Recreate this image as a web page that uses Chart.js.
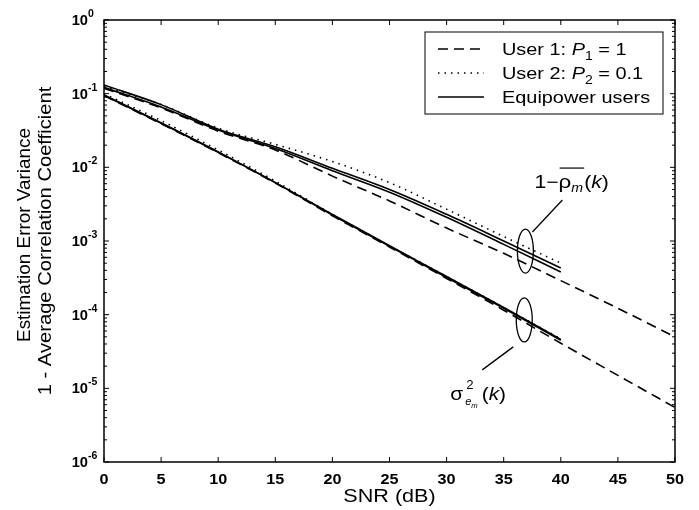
<!DOCTYPE html>
<html>
<head>
<meta charset="utf-8">
<script src="https://cdn.jsdelivr.net/npm/chart.js@4/dist/chart.umd.min.js"></script>
<style>
html, body { margin: 0; padding: 0; background: #fff; }
#plot { display: block; }
</style>
</head>
<body>
<canvas id="plot" width="699" height="510"></canvas>
<script>
const snrShort = [0, 5, 10, 15, 20, 25, 30, 35, 40];
const snrLong = [0, 5, 10, 15, 20, 25, 30, 35, 40, 45, 50];
const xTicks = [0, 5, 10, 15, 20, 25, 30, 35, 40, 45, 50];
const yExponents = [0, -1, -2, -3, -4, -5, -6];

// 1 - average correlation coefficient
const rhoUser1 = [0.118, 0.064, 0.031, 0.0172, 0.0076, 0.0035, 0.0015, 0.00068, 0.00029, 0.000122, 0.00005];
const rhoUser2 = [0.126, 0.071, 0.034, 0.0205, 0.0120, 0.0062, 0.0027, 0.00115, 0.0005];
const rhoEqualA = [0.131, 0.071, 0.033, 0.019, 0.0097, 0.0050, 0.0023, 0.0010, 0.00043];
const rhoEqualB = [0.122, 0.066, 0.032, 0.018, 0.0090, 0.0046, 0.0021, 0.0009, 0.00038];

// estimation error variance
const sigUser1 = [0.094, 0.039, 0.0158, 0.0061, 0.0022, 0.00083, 0.00031, 0.000115, 0.000041, 0.000015, 0.0000055];
const sigUser2 = [0.100, 0.043, 0.0172, 0.0065, 0.0023, 0.00086, 0.00033, 0.000125, 0.000047];
const sigEqualA = [0.096, 0.040, 0.0162, 0.0062, 0.0023, 0.00086, 0.00033, 0.000125, 0.000046];
const sigEqualB = [0.095, 0.040, 0.0160, 0.0062, 0.00225, 0.00085, 0.00032, 0.000122, 0.000045];

const FONT = 'Liberation Sans, Arial, Helvetica, sans-serif';
const DASH = [10, 6];
const DOT = [1.5, 5];

function pts(xs, ys) {
  return ys.map((v, i) => ({ x: xs[i], y: v }));
}

function line(data, dash) {
  return {
    data: data,
    borderColor: '#000',
    borderWidth: 1.6,
    borderDash: dash,
    pointRadius: 0,
    fill: false,
    cubicInterpolationMode: 'monotone'
  };
}

// writes a row of text pieces, each with its own font and vertical shift,
// widened by sx (the scanned figure has wide lettering)
function runs(ctx, x, y, parts, sx) {
  sx = sx || 1;
  ctx.textAlign = 'left';
  parts.forEach(p => {
    ctx.font = p.f;
    ctx.save();
    ctx.translate(x, y + (p.dy || 0));
    ctx.scale(sx, 1);
    ctx.fillText(p.t, 0, 0);
    ctx.restore();
    x += ctx.measureText(p.t).width * sx;
  });
  return x;
}

function centred(ctx, text, x, y, font, sx) {
  ctx.font = font;
  const w = ctx.measureText(text).width * sx;
  runs(ctx, x - w / 2, y, [{ t: text, f: font }], sx);
}

const axesBox = {
  id: 'axesBox',
  afterDatasetsDraw(chart) {
    const { ctx, chartArea: a, scales: { x, y } } = chart;
    ctx.save();
    ctx.strokeStyle = '#000';
    ctx.fillStyle = '#000';
    ctx.setLineDash([]);
    ctx.lineWidth = 1.5;
    ctx.strokeRect(a.left, a.top, a.right - a.left, a.bottom - a.top);

    // inward ticks
    ctx.lineWidth = 1;
    ctx.beginPath();
    xTicks.forEach(v => {
      const px = x.getPixelForValue(v);
      ctx.moveTo(px, a.bottom); ctx.lineTo(px, a.bottom - 5);
      ctx.moveTo(px, a.top); ctx.lineTo(px, a.top + 5);
    });
    yExponents.forEach(e => {
      for (let m = 1; m <= 9; m++) {
        const v = m * Math.pow(10, e);
        if (v > 1) continue;
        const py = y.getPixelForValue(v);
        const len = m === 1 ? 5 : 3;
        ctx.moveTo(a.left, py); ctx.lineTo(a.left + len, py);
        ctx.moveTo(a.right, py); ctx.lineTo(a.right - len, py);
      }
    });
    ctx.stroke();

    // tick labels
    ctx.textBaseline = 'alphabetic';
    xTicks.forEach(v => centred(ctx, String(v), x.getPixelForValue(v), a.bottom + 22, 'bold 15px ' + FONT, 1.08));
    yExponents.forEach(e => {
      const py = y.getPixelForValue(Math.pow(10, e));
      ctx.font = 'bold 14px ' + FONT;
      const w = ctx.measureText('10').width * 1.05;
      runs(ctx, a.left - 16 - w, py + 5, [{ t: '10', f: 'bold 14px ' + FONT }], 1.05);
      runs(ctx, a.left - 16, py - 3, [{ t: String(e), f: 'bold 10px ' + FONT }], 1.05);
    });

    // axis titles
    centred(ctx, 'SNR (dB)', (a.left + a.right) / 2, a.bottom + 40, '18px ' + FONT, 1.2);
    ctx.save();
    ctx.translate(0, (a.top + a.bottom) / 2);
    ctx.rotate(-Math.PI / 2);
    centred(ctx, 'Estimation Error Variance', 6, 30, '18px ' + FONT, 1.05);
    centred(ctx, '1 - Average Correlation Coefficient', 0, 51, '18px ' + FONT, 1.12);
    ctx.restore();

    // legend
    const L = { x: 425, y: 32, w: 238, h: 82 };
    ctx.fillStyle = '#fff';
    ctx.fillRect(L.x, L.y, L.w, L.h);
    ctx.lineWidth = 1;
    ctx.strokeRect(L.x, L.y, L.w, L.h);
    ctx.fillStyle = '#000';
    const F = '17px ' + FONT, FI = 'italic 17px ' + FONT, FS = '12px ' + FONT;
    const rows = [
      { dash: DASH, parts: [{ t: 'User 1: ', f: F }, { t: 'P', f: FI }, { t: '1', f: FS, dy: 5 }, { t: ' = 1', f: F }] },
      { dash: DOT, parts: [{ t: 'User 2: ', f: F }, { t: 'P', f: FI }, { t: '2', f: FS, dy: 5 }, { t: ' = 0.1', f: F }] },
      { dash: [], parts: [{ t: 'Equipower users', f: F }] }
    ];
    rows.forEach((r, i) => {
      const ry = 49 + i * 24;
      ctx.lineWidth = 1.4;
      ctx.setLineDash(r.dash);
      ctx.beginPath(); ctx.moveTo(438, ry); ctx.lineTo(484, ry); ctx.stroke();
      ctx.setLineDash([]);
      runs(ctx, 502, ry + 6, r.parts, 1.17);
    });

    // loops marking the two groups of curves
    ctx.lineWidth = 1.3;
    const up = { x: x.getPixelForValue(36.9), y: y.getPixelForValue(7.3e-4) };
    const lo = { x: x.getPixelForValue(36.8), y: y.getPixelForValue(8.5e-5) };
    [up, lo].forEach(c => {
      ctx.beginPath(); ctx.ellipse(c.x, c.y, 8, 22, 0, 0, Math.PI * 2); ctx.stroke();
    });
    ctx.beginPath();
    ctx.moveTo(up.x + 7, up.y - 19); ctx.lineTo(up.x + 37, up.y - 51);
    ctx.moveTo(lo.x - 11, lo.y + 27); ctx.lineTo(lo.x - 42, lo.y + 50);
    ctx.stroke();

    // 1 - rho_m(k)
    const sa = 1.18;
    let tx = up.x + 9, ty = up.y - 63;
    tx = runs(ctx, tx, ty, [{ t: '1\u2212', f: '18px ' + FONT }], sa);
    const ox = tx;
    tx = runs(ctx, tx, ty, [{ t: '\u03c1', f: '19px ' + FONT }, { t: 'm', f: 'italic 12px ' + FONT, dy: 4 }], sa);
    ctx.lineWidth = 1.2;
    ctx.beginPath(); ctx.moveTo(ox + 1, ty - 20); ctx.lineTo(tx + 1, ty - 20); ctx.stroke();
    runs(ctx, tx + 1, ty, [{ t: '(', f: '18px ' + FONT }, { t: 'k', f: 'italic 18px ' + FONT }, { t: ')', f: '18px ' + FONT }], sa);

    // sigma^2_em(k)
    tx = lo.x - 74; ty = lo.y + 80;
    tx = runs(ctx, tx, ty, [{ t: '\u03c3', f: '19px ' + FONT }], 1.1);
    runs(ctx, tx + 3, ty - 11, [{ t: '2', f: '12px ' + FONT }], 1.1);
    let sx = runs(ctx, tx + 2, ty + 5, [{ t: 'e', f: 'italic 10px ' + FONT }], 1.1);
    sx = runs(ctx, sx, ty + 8, [{ t: 'm', f: 'italic 7px ' + FONT }], 1.1);
    runs(ctx, sx + 4, ty, [{ t: '(', f: '19px ' + FONT }, { t: 'k', f: 'italic 19px ' + FONT }, { t: ')', f: '19px ' + FONT }], 1.1);

    ctx.restore();
  }
};

new Chart(document.getElementById('plot'), {
  type: 'line',
  data: {
    datasets: [
      line(pts(snrLong, rhoUser1), DASH),
      line(pts(snrShort, rhoUser2), DOT),
      line(pts(snrShort, rhoEqualA), []),
      line(pts(snrShort, rhoEqualB), []),
      line(pts(snrLong, sigUser1), DASH),
      line(pts(snrShort, sigUser2), DOT),
      line(pts(snrShort, sigEqualA), []),
      line(pts(snrShort, sigEqualB), [])
    ]
  },
  options: {
    responsive: false,
    animation: false,
    layout: { padding: { left: 104, top: 20, right: 24, bottom: 48 } },
    plugins: { legend: { display: false }, tooltip: { enabled: false } },
    scales: {
      x: { type: 'linear', min: 0, max: 50, display: false },
      y: { type: 'logarithmic', min: 1e-6, max: 1, display: false }
    }
  },
  plugins: [axesBox]
});
</script>
</body>
</html>
